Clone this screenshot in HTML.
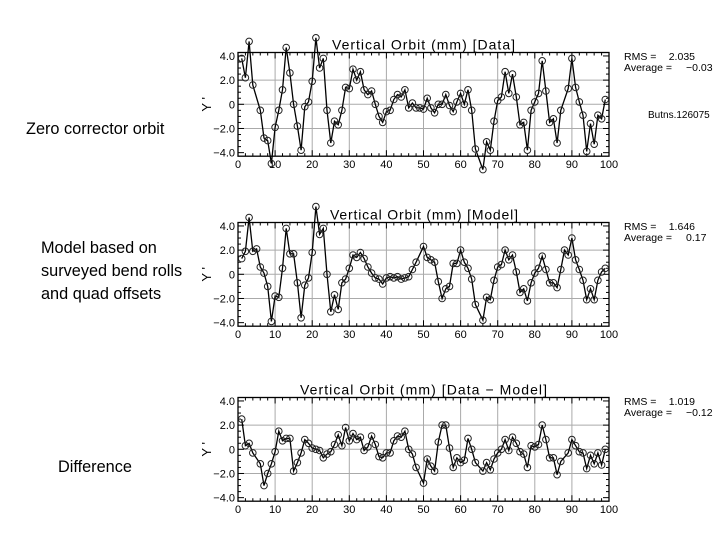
<!DOCTYPE html>
<html><head><meta charset="utf-8"><style>
body{margin:0;background:#fff;width:720px;height:540px;overflow:hidden;position:relative;font-family:"Liberation Sans",sans-serif}
.lab{position:absolute;font-size:16.3px;color:#000;line-height:23px}
svg{position:absolute;left:0;top:0}
</style></head><body>
<div class="lab" style="left:26px;top:118px">Zero corrector orbit</div>
<div class="lab" style="left:41px;top:237px">Model based on<br>surveyed bend rolls<br>and quad offsets</div>
<div class="lab" style="left:58px;top:456px">Difference</div>
<svg id="s" width="720" height="540" xmlns="http://www.w3.org/2000/svg" font-family="Liberation Sans, sans-serif"></svg>
<script>
var d1={1:3.8,2:2.2,3:5.2,4:1.6,6:-0.5,7:-2.8,8:-3.0,9:-4.9,10:-1.9,11:-0.5,12:1.2,13:4.7,14:2.6,15:0,16:-1.8,17:-3.8,18:-0.2,19:0.2,20:1.9,21:5.5,22:3.0,23:3.8,24:-0.5,25:-3.2,26:-1.4,27:-1.7,28:-0.5,29:1.4,30:1.3,31:2.9,32:2.0,33:2.7,34:1.2,35:0.8,36:1.1,37:0,38:-1.0,39:-1.5,40:-0.6,41:-0.5,42:0.4,43:0.8,44:0.6,45:1.2,46:-0.3,47:0.1,48:-0.3,49:-0.3,50:-0.4,51:0.5,52:-0.3,53:-0.7,54:0,55:0,56:0.8,57:-0.1,58:-0.6,59:0.2,60:0.9,61:0,62:1.2,63:-0.5,64:-3.7,66:-5.4,67:-3.1,68:-3.8,69:-1.4,70:0.3,71:0.6,72:2.7,73:0.9,74:2.5,75:0.6,76:-1.7,77:-1.5,78:-3.8,79:-0.5,80:0.2,81:0.9,82:3.6,83:1.1,84:-1.5,85:-1.2,86:-3.2,87:-0.5,89:1.3,90:3.8,91:1.4,92:0.2,93:-0.9,94:-3.9,95:-1.6,96:-3.3,97:-0.9,98:-1.2,99:0.4};
var d2={1:1.3,2:1.9,3:4.7,4:1.9,5:2.1,6:0.6,7:0.1,8:-1,9:-3.9,10:-1.8,11:-1.9,12:0.5,13:3.8,14:1.7,15:1.7,16:-0.7,17:-3.6,18:-0.9,19:-0.3,20:1.8,21:5.6,22:3.3,23:3.8,24:0,25:-3.1,26:-1.7,27:-2.9,28:-0.7,29:-0.4,30:0.5,31:1.6,32:1.4,33:1.8,34:1.3,35:0.6,36:0.1,37:-0.3,38:-0.4,39:-0.8,40:-0.3,41:-0.2,42:-0.3,43:-0.2,44:-0.4,45:-0.3,46:-0.2,47:0.4,48:1.0,50:2.3,51:1.4,52:1.2,53:1.0,54:-0.6,55:-2.0,56:-1.2,57:-1.0,58:0.9,59:0.9,60:2.0,61:1.0,62:0.5,63:-0.4,64:-2.5,66:-3.8,67:-1.9,68:-2.1,69:-0.5,70:0.6,71:0.8,72:2.0,73:1.2,74:1.6,75:0.2,76:-1.5,77:-1.2,78:-2.2,79:-0.7,80:0.1,81:0.5,82:1.5,83:0.4,84:-0.7,85:-0.7,86:-1.1,87:0.4,88:2.0,89:1.6,90:3.0,91:1.2,92:0.4,93:-0.5,94:-2.1,95:-1.2,96:-2.1,97:-0.5,98:0.2,99:0.5};
var d3={1:2.5,2:0.3,3:0.5,4:-0.3,6:-1.2,7:-3.0,8:-2.0,9:-1.2,10:-0.2,11:1.5,12:0.7,13:0.9,14:0.9,15:-1.8,16:-1.1,17:-0.3,18:0.8,19:0.5,20:0.1,21:0,22:-0.1,23:-0.7,24:-0.4,25:-0.2,26:0.4,27:1.2,28:0.3,29:1.8,30:0.7,31:1.3,32:0.8,33:1.0,34:-0.1,35:0.2,36:1.1,37:0.4,38:-0.6,39:-0.7,40:-0.3,41:-0.3,42:0.7,43:1.1,44:1.0,45:1.5,46:0,47:-0.4,48:-1.5,50:-2.8,51:-0.8,52:-1.4,53:-1.8,54:0.6,55:2.0,56:2.0,57:0.1,58:-1.5,59:-0.7,60:-1.1,61:-0.9,62:0.9,63:0,64:-1.1,66:-1.8,67:-1.1,68:-1.7,69:-0.8,70:-0.3,71:0,72:0.8,73:-0.1,74:1.0,75:0.5,76:-0.2,77:-0.4,78:-1.5,79:0.3,80:0.2,81:0.4,82:2.0,83:0.8,84:-0.7,85:-0.7,86:-2.1,87:-1.0,89:-0.3,90:0.8,91:0.3,92:-0.2,93:-0.3,94:-1.6,95:-0.5,96:-1.2,97:-0.3,98:-1.3,99:0};
var h='';
function chart(d,y4,title,tx0,tx1,rms,avg){
 var x0=238,x1=609,ym4=y4+96.7,sc=(ym4-y4)/8,y0=y4+48.3;
 var top=y4-3.5,bot=ym4+3.5;
 function X(v){return x0+v*(x1-x0)/100}
 function Y(v){return y0-v*sc}
 for(var i=10;i<100;i+=10)h+='<line x1="'+X(i)+'" y1="'+top+'" x2="'+X(i)+'" y2="'+bot+'" stroke="#aaa" stroke-width="1"/>';
 [-2,0,2].forEach(function(v){h+='<line x1="'+x0+'" y1="'+Y(v)+'" x2="'+x1+'" y2="'+Y(v)+'" stroke="#aaa" stroke-width="1"/>'});
 h+='<rect x="'+x0+'" y="'+top+'" width="'+(x1-x0)+'" height="'+(bot-top)+'" fill="none" stroke="#000" stroke-width="1.3"/>';
 for(var i=0;i<=100;i+=2){var L=(i%10==0)?6:3;h+='<line x1="'+X(i)+'" y1="'+bot+'" x2="'+X(i)+'" y2="'+(bot-L)+'" stroke="#000"/><line x1="'+X(i)+'" y1="'+top+'" x2="'+X(i)+'" y2="'+(top+L)+'" stroke="#000"/>';}
 for(var v=-4;v<=4;v+=0.5){var L=(v%2==0)?6:3;h+='<line x1="'+x0+'" y1="'+Y(v)+'" x2="'+(x0+L)+'" y2="'+Y(v)+'" stroke="#000"/><line x1="'+x1+'" y1="'+Y(v)+'" x2="'+(x1-L)+'" y2="'+Y(v)+'" stroke="#000"/>';}
 for(var i=0;i<=100;i+=10)h+='<text x="'+X(i)+'" y="'+(bot+12)+'" font-size="11" text-anchor="middle">'+i+'</text>';
 [[4,'4.0'],[2,'2.0'],[0,'0'],[-2,'\u22122.0'],[-4,'\u22124.0']].forEach(function(a){h+='<text x="'+(x0-3)+'" y="'+(Y(a[0])+4)+'" font-size="11" text-anchor="end">'+a[1]+'</text>'});
 h+='<text x="207" y="'+(y0+4)+'" font-size="13" transform="rotate(-90 207 '+y0+')" text-anchor="middle">Y \'</text>';
 h+='<text x="'+tx0+'" y="'+(top-3)+'" font-size="14" textLength="'+(tx1-tx0)+'" lengthAdjust="spacing">'+title+'</text>';
 h+='<text x="624" y="'+(y4+4)+'" font-size="10.5">RMS =</text><text x="695" y="'+(y4+4)+'" font-size="10.5" text-anchor="end">'+rms+'</text>';
 h+='<text x="624" y="'+(y4+15)+'" font-size="10.5">Average =</text><text x="686" y="'+(y4+15)+'" font-size="10.5">'+avg+'</text>';
 var pts=Object.keys(d).map(Number).sort(function(a,b){return a-b}).map(function(k){return [X(k),Y(d[k])]});
 h+='<polyline fill="none" stroke="#000" stroke-width="1.3" points="'+pts.map(function(p){return p[0].toFixed(1)+','+p[1].toFixed(1)}).join(' ')+'"/>';
 pts.forEach(function(p){h+='<circle cx="'+p[0].toFixed(1)+'" cy="'+p[1].toFixed(1)+'" r="3.3" fill="none" stroke="#222" stroke-width="1"/>'});
}
chart(d1,56,'Vertical Orbit (mm) [Data]',332,515,'2.035','\u22120.03');
chart(d2,226,'Vertical Orbit (mm) [Model]',330,518,'1.646','0.17');
chart(d3,401,'Vertical Orbit (mm) [Data \u2212 Model]',300,547,'1.019','\u22120.12');
h+='<text x="648" y="118" font-size="10">Butns.126075</text>';
document.getElementById('s').innerHTML=h;
</script>
</body></html>
